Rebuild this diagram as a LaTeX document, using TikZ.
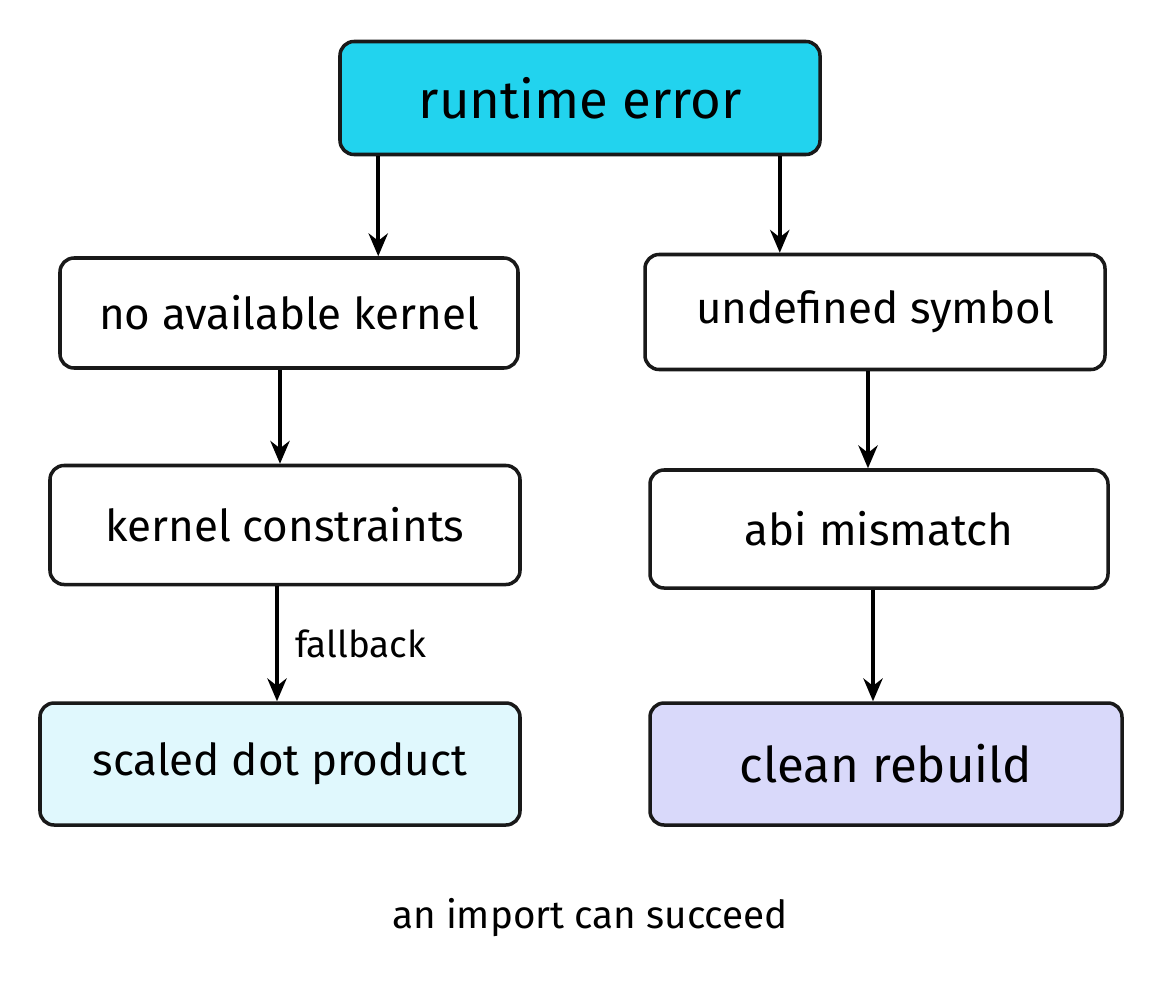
\documentclass[tikz,border=0pt]{standalone}
\usepackage{fontspec}
\setmainfont{Fira Sans}
\usetikzlibrary{arrows.meta}
\definecolor{cyanf}{HTML}{22D3EE}
\definecolor{lcyan}{HTML}{E0F8FD}
\definecolor{lav}{HTML}{D9D9FA}
\begin{document}
\begin{tikzpicture}[x=0.02cm,y=-0.02cm,
  box/.style={draw=black!90,line width=2pt,rounded corners=8pt,fill=white,inner sep=0pt,font=\fontsize{25}{29}\selectfont},
  arr/.style={-{Stealth[length=13pt,width=11pt]},line width=2pt}]
\useasboundingbox (0,0) rectangle (1163,987);
\node[box,fill=cyanf,minimum width=480*0.02cm,minimum height=113*0.02cm,font=\fontsize{30}{34}\selectfont] (re) at (580,98) {runtime error};
\node[box,minimum width=458*0.02cm,minimum height=110*0.02cm] (nak) at (289,313) {no available kernel};
\node[box,minimum width=460*0.02cm,minimum height=115*0.02cm] (us) at (875,312) {undefined symbol};
\node[box,minimum width=470*0.02cm,minimum height=119*0.02cm] (kc) at (285,525) {kernel constraints};
\node[box,minimum width=458*0.02cm,minimum height=118*0.02cm] (am) at (879,529) {abi mismatch};
\node[box,fill=lcyan,minimum width=480*0.02cm,minimum height=122*0.02cm] (sd) at (280,764) {scaled dot product};
\node[box,fill=lav,minimum width=472*0.02cm,minimum height=122*0.02cm,font=\fontsize{28}{32}\selectfont] (cr) at (886,764) {clean rebuild};
\draw[arr] ([xshift=0.8cm]re.south west) -- ([xshift=0.8cm]re.south west |- nak.north);
\draw[arr] ([xshift=-0.84cm]re.south east) -- ([xshift=-0.84cm]re.south east |- us.north);
\draw[arr] (nak.south -| 280,0) -- (kc.north -| 280,0);
\draw[arr] (us.south -| 868,0) -- (am.north -| 868,0);
\draw[arr] (kc.south -| 277,0) -- node[right=6pt,font=\fontsize{21}{24}\selectfont] (fb) {fallback} (sd.north -| 277,0);
\draw[arr] (am.south -| 873,0) -- (cr.north -| 873,0);
\node[font=\fontsize{22}{26}\selectfont] (note) at (590,918) {an import can succeed};
\end{tikzpicture}
\end{document}
